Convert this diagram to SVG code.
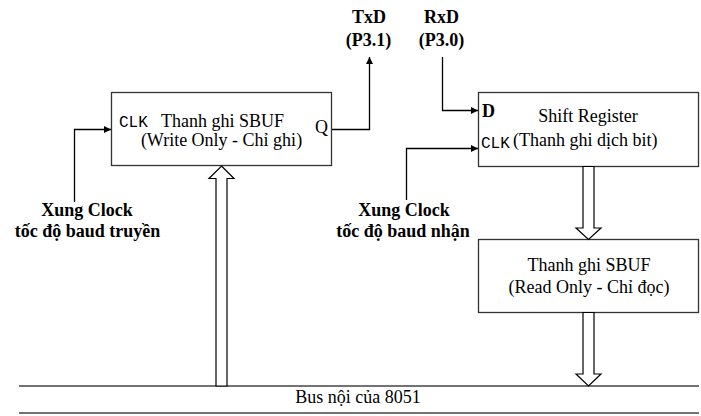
<svg xmlns="http://www.w3.org/2000/svg" width="701" height="416" viewBox="0 0 701 416">
<style>
.box{fill:#fff;stroke:#333;stroke-width:1.3}
.t{font-family:"Liberation Serif","Times New Roman",serif;font-size:18px;fill:#000}
.b{font-weight:bold}
.m{font-family:"Liberation Mono","Courier New",monospace;font-size:16px;fill:#000}
.c{text-anchor:middle}
.ln{fill:none;stroke:#000;stroke-width:1.3}
.hol{fill:#fff;stroke:#000;stroke-width:1.2}
.bus{stroke:#444;stroke-width:1.5}
</style>
<defs>
<marker id="ah" viewBox="0 0 10 10" refX="10" refY="5" markerWidth="8" markerHeight="7" markerUnits="userSpaceOnUse" orient="auto">
<path d="M0,0 L10,5 L0,10 z" fill="#000"/>
</marker>
</defs>
<rect width="701" height="416" fill="#fff"/>
<g id="bus">
<line class="bus" x1="19" y1="386" x2="699" y2="386"/>
<line class="bus" x1="19" y1="413" x2="699" y2="413"/>
<text class="t c" x="358" y="403">Bus nội của 8051</text>
</g>
<g id="sbuf-tx">
<rect class="box" x="111.5" y="92.5" width="220" height="73"/>
<text class="m" x="119" y="127">CLK</text>
<text class="t" x="161" y="127">Thanh ghi SBUF</text>
<text class="t c" x="221.5" y="146">(Write Only - Chỉ ghi)</text>
<text class="t" x="315" y="133">Q</text>
</g>
<g id="shift-register">
<rect class="box" x="478.5" y="92.5" width="220" height="74"/>
<text class="t b" x="482" y="117">D</text>
<text class="t c" x="588" y="122">Shift Register</text>
<text class="m" x="481" y="148">CLK</text>
<text class="t" x="513" y="146">(Thanh ghi dịch bit)</text>
</g>
<g id="sbuf-rx">
<rect class="box" x="478.5" y="239.5" width="220" height="73"/>
<text class="t c" x="589" y="271">Thanh ghi SBUF</text>
<text class="t c" x="589" y="293">(Read Only - Chỉ đọc)</text>
</g>
<g id="txd">
<text class="t b c" x="369" y="23">TxD</text>
<text class="t b c" x="368.5" y="46">(P3.1)</text>
</g>
<g id="rxd">
<text class="t b c" x="441.5" y="23">RxD</text>
<text class="t b c" x="441.5" y="46">(P3.0)</text>
</g>
<g id="clk-tx">
<text class="t b c" x="87" y="216">Xung Clock</text>
<text class="t b c" x="87.5" y="237">tốc độ baud truyền</text>
</g>
<g id="clk-rx">
<text class="t b c" x="404" y="216">Xung Clock</text>
<text class="t b c" x="403" y="237">tốc độ baud nhận</text>
</g>
<g id="connectors">
<path class="ln" d="M74.5,202 V129.5 H111" marker-end="url(#ah)"/>
<path class="ln" d="M332,129.5 H369.5 V57" marker-end="url(#ah)"/>
<path class="ln" d="M442.5,57 V110.5 H478" marker-end="url(#ah)"/>
<path class="ln" d="M406.5,200 V148.5 H478" marker-end="url(#ah)"/>
<polygon class="hol" points="221.5,166 234,178.5 227,178.5 227,386 216,386 216,178.5 209,178.5"/>
<polygon class="hol" points="583,166.5 594,166.5 594,228 601,228 588.5,239.5 576,228 583,228"/>
<polygon class="hol" points="583,312.5 594,312.5 594,374 601,374 588.5,386 576,374 583,374"/>
</g>
</svg>
